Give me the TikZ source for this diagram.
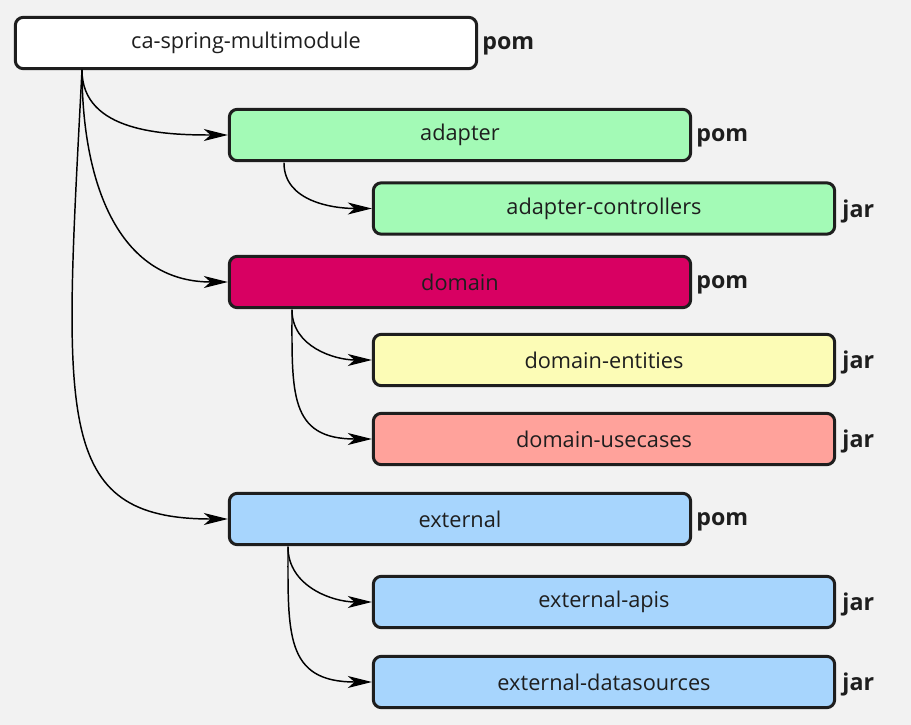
\documentclass[tikz,border=0pt]{standalone}
\usepackage{fontspec}
\setmainfont{Open Sans}
\usetikzlibrary{arrows.meta, positioning}
\definecolor{canvas}{HTML}{F2F2F2}
\definecolor{ink}{HTML}{1E1E1E}
\definecolor{mgreen}{HTML}{A3FAB6}
\definecolor{mcrimson}{HTML}{D80062}
\definecolor{myellow}{HTML}{FCFCB6}
\definecolor{msalmon}{HTML}{FFA29B}
\definecolor{mblue}{HTML}{A7D5FD}
\tikzset{module/.style={draw=ink, line width=2.25pt, rounded corners=6pt, minimum width=346pt, minimum height=38.5pt,
           inner sep=0pt, text=ink, font=\fontsize{16.3}{19}\selectfont},
         pack/.style={inner sep=0pt, text=ink, yshift=-2pt, font=\fontsize{17.4}{20}\selectfont\bfseries},
         link/.style={line width=1.1pt, line cap=round, -{Stealth[length=18pt,width=9pt,inset=5pt]}}}

\begin{document}
\begin{tikzpicture}[x=0.75pt, y=-0.75pt]
  \fill[canvas] (0,0) rectangle (911,725);
  \useasboundingbox (0,0) rectangle (911,725);
  % parent poms
  \foreach \n/\x/\y/\c/\t in {root/246/43/white/ca-spring-multimodule, adapter/460/135/mgreen/adapter,
                              domain/460/282/mcrimson/domain, external/460/519/mblue/external}{
     \node[module, fill=\c] (\n) at (\x,\y) {\t};
     \node[pack, right=3pt of \n] (\n-kind) {pom};}
  % jar modules
  \foreach \n/\y/\c/\t in {ctrl/208.5/mgreen/adapter-controllers, entities/360/myellow/domain-entities,
                           usecases/439/msalmon/domain-usecases, apis/602/mblue/external-apis,
                           sources/682/mblue/external-datasources}{
     \node[module, fill=\c] (\n) at (604,\y) {\t};
     \node[pack, right=4.5pt of \n] (\n-kind) {jar};}
  \coordinate (rootout) at (82,70);
  \coordinate (adapterout) at (284,163);
  \coordinate (domainout) at (292,310);
  \coordinate (externalout) at (288,547);
  \draw[link] (rootout) to[out=-90,in=180] (adapter.west);
  \draw[link] (rootout) to[out=-90,in=180,looseness=1.1] (domain.west);
  \draw[link] (rootout) .. controls +(-18,348) and +(-175,0) .. (external.west);
  \draw[link] (adapterout) to[out=-90,in=180] (ctrl.west);
  \draw[link] (domainout) to[out=-90,in=180] (entities.west);
  \draw[link] (domainout) to[out=-90,in=180,looseness=1.4] (usecases.west);
  \draw[link] (externalout) to[out=-90,in=180] (apis.west);
  \draw[link] (externalout) to[out=-90,in=180,looseness=1.4] (sources.west);
\end{tikzpicture}
\end{document}
